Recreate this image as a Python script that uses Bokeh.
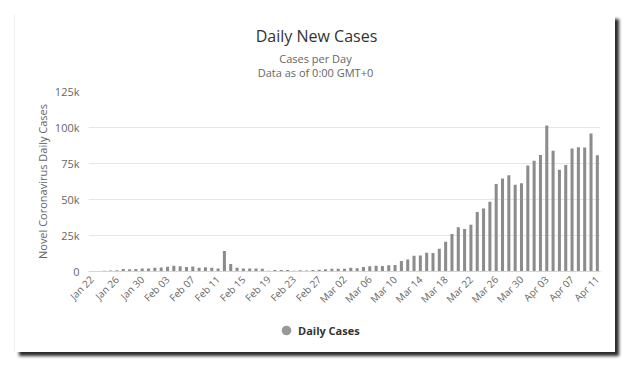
import pandas as pd
from math import pi
from bokeh.plotting import figure
from bokeh.layouts import column, row
from bokeh.models import ColumnDataSource, FixedTicker, Label, Legend, LegendItem, Spacer
from bokeh.embed import file_html
from bokeh.resources import INLINE

# ---- data ----
dates = [d.strftime("%b %d") for d in pd.date_range("2020-01-22", "2020-04-11")]
daily_cases = [
    0, 265, 472, 698, 785, 1781, 1477, 1755, 2010, 2127,          # Jan 22 - Jan 31
    2603, 2838, 3239, 3915, 3721, 3173, 3437, 2676, 3001, 2546,   # Feb 01 - Feb 10
    2035, 14153, 5151, 2662, 2097, 2132, 2003, 1852, 516, 977,    # Feb 11 - Feb 20
    996, 978, 554, 882, 741, 992, 1292, 1503, 1989,               # Feb 21 - Feb 29
    1981, 1858, 2573, 2298, 3111, 3625, 4049, 3892, 4390, 4567,   # Mar 01 - Mar 10
    7266, 8362, 10907, 11170, 12940, 12897, 15748, 20584, 26111, 30664,  # Mar 11 - Mar 20
    29439, 32453, 41341, 43744, 48461, 60830, 64501, 66761, 60263, 61326,  # Mar 21 - Mar 30
    73645,                                                        # Mar 31
    76836, 80931, 101465, 83890, 70632, 73889, 85371, 86291, 86054, 95875,  # Apr 01 - Apr 10
    80720,                                                        # Apr 11
]
y_ticks = [0, 25000, 50000, 75000, 100000, 125000]
y_tick_labels = ["0", "25k", "50k", "75k", "100k", "125k"]
title_text = "Daily New Cases"
subtitle_lines = ["Cases per Day", "Data as of 0:00 GMT+0"]
y_title = "Novel Coronavirus Daily Cases"
series_name = "Daily Cases"

idx = list(range(len(dates)))
src = ColumnDataSource(dict(x=idx, y=daily_cases, label=dates))

FONT = "Open Sans"
GREY = "#666666"
W = 600


def blank(height):
    f = figure(width=W, height=height, output_backend="svg", toolbar_location=None,
               x_range=(0, 1), y_range=(0, 1), x_axis_type=None, y_axis_type=None,
               min_border=0)
    f.outline_line_color = None
    f.background_fill_color = "white"
    f.border_fill_color = "white"
    return f


# ---- heading (x positions are relative to the aligned plot frame) ----
p_head = blank(66)
p_head.add_layout(Label(x=228, y=46, x_units="screen", y_units="screen", text=title_text,
                        text_align="center", text_baseline="middle", text_font=FONT,
                        text_font_size="16px", text_color="#333333"))
for ty, line in zip([23, 9], subtitle_lines):
    p_head.add_layout(Label(x=227, y=ty, x_units="screen", y_units="screen", text=line,
                            text_align="center", text_baseline="middle", text_font=FONT,
                            text_font_size="11px", text_color=GREY))

# ---- main chart ----
p = figure(width=W, height=235, output_backend="svg", toolbar_location=None,
           x_range=(-0.5, len(dates) - 0.5), y_range=(0, 125000),
           min_border_left=73, min_border_right=15, min_border_top=10, min_border_bottom=45)
p.outline_line_color = None
p.background_fill_color = "white"
p.border_fill_color = "white"

p.vbar(x="x", top="y", width=0.48, source=src, color="#8c8c8c", line_width=0)

p.yaxis.ticker = FixedTicker(ticks=y_ticks)
p.yaxis.major_label_overrides = {t: l for t, l in zip(y_ticks, y_tick_labels)}
p.yaxis.axis_line_color = None
p.yaxis.major_tick_line_color = None
p.yaxis.minor_tick_line_color = None
p.yaxis.major_tick_out = 0
p.yaxis.major_label_standoff = 9
p.yaxis.major_label_text_font = FONT
p.yaxis.major_label_text_font_size = "11px"
p.yaxis.major_label_text_color = GREY
p.yaxis.axis_label = y_title
p.yaxis.axis_label_text_font = FONT
p.yaxis.axis_label_text_font_size = "11px"
p.yaxis.axis_label_text_font_style = "normal"
p.yaxis.axis_label_text_color = GREY
p.yaxis.axis_label_standoff = 2
p.ygrid.grid_line_color = "#e6e6e6"
p.xgrid.grid_line_color = None

xt = idx[::4]
p.xaxis.ticker = FixedTicker(ticks=xt)
p.xaxis.major_label_overrides = {i: dates[i] for i in xt}
p.xaxis.major_label_orientation = pi / 4
p.xaxis.axis_line_color = "#ccd6eb"
p.xaxis.major_tick_line_color = None
p.xaxis.minor_tick_line_color = None
p.xaxis.major_tick_out = 0
p.xaxis.major_label_text_font = FONT
p.xaxis.major_label_text_font_size = "10px"
p.xaxis.major_label_text_color = GREY
p.xaxis.major_label_standoff = 6

# ---- legend strip ----
p_leg = blank(36)
dots = p_leg.scatter(x="x", y="y", source=src, size=0, color="#999999", line_color=None)
legend = Legend(items=[LegendItem(label=series_name, renderers=[dots])],
                orientation="horizontal", location=(186, 10),
                label_text_font=FONT, label_text_font_style="bold",
                label_text_font_size="11px", label_text_color="#333333",
                glyph_width=24, glyph_height=24, label_standoff=0, border_line_color=None,
                background_fill_alpha=0, margin=0, padding=0)
p_leg.add_layout(legend, "center")

panel = column(p_head, p, p_leg, spacing=0)
panel.styles = {"box-shadow": "4px 4px 3px #2b2b2b, -1px 0px 0px #eeeeee"}
root = column(Spacer(width=10, height=15),
              row(Spacer(width=15, height=10), panel, spacing=0), spacing=0)

open("out.html", "w").write(file_html(root, INLINE))
